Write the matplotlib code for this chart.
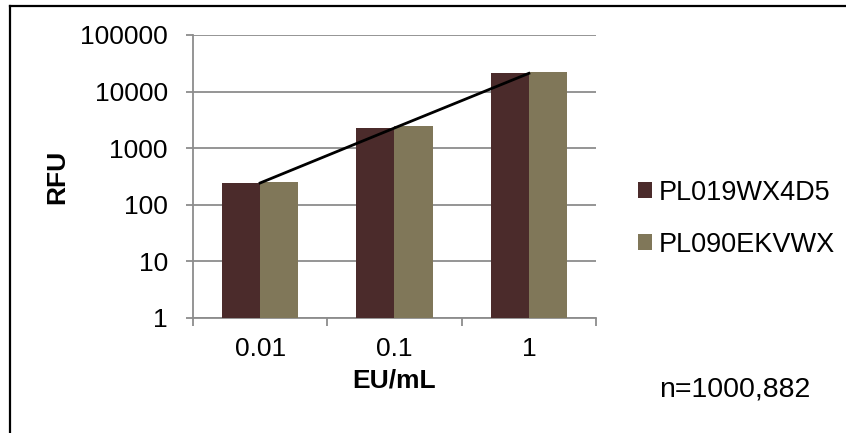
import matplotlib
matplotlib.use('Agg')
import matplotlib.pyplot as plt
import matplotlib.ticker as mticker
from matplotlib.lines import Line2D
from matplotlib.patches import Patch
import numpy as np

plt.rcParams['font.family'] = ['Liberation Sans', 'DejaVu Sans']

categories = ['0.01', '0.1', '1']
series_names = ['PL019WX4D5', 'PL090EKVWX']
pl019_rfu = [243, 2275, 21000]
pl090_rfu = [253, 2440, 21900]
y_ticks = [1, 10, 100, 1000, 10000, 100000]
note = 'n=1000,882'

dark = '#4b2b2b'
olive = '#807759'
grid_gray = '#8c8c8c'
fs = 19

fig = plt.figure(figsize=(8.46, 4.33), dpi=100)
ax = fig.add_axes([0.2281, 0.2656, 0.4764, 0.6536])

x = np.arange(1, len(categories) + 1)
w = 0.284
ax.bar(x - w / 2, pl019_rfu, width=w, color=dark, zorder=3)
ax.bar(x + w / 2, pl090_rfu, width=w, color=olive, zorder=3)
# straight line across the first series
ax.plot(x, pl019_rfu, color='black', linewidth=2.0, zorder=4)

ax.set_yscale('log')
ax.set_ylim(1, 100000)
ax.set_xlim(0.5, len(categories) + 0.5)
ax.yaxis.set_major_locator(mticker.FixedLocator(y_ticks))
ax.yaxis.set_minor_locator(mticker.NullLocator())
ax.yaxis.set_major_formatter(mticker.FuncFormatter(lambda v, p: f'{int(round(v))}'))
ax.grid(axis='y', color=grid_gray, linewidth=1.3, zorder=0)

# category boundaries as ticks, labels on the centers
ax.xaxis.set_major_locator(mticker.FixedLocator(np.arange(0.5, len(categories) + 1)))
ax.xaxis.set_major_formatter(mticker.NullFormatter())
ax.xaxis.set_minor_locator(mticker.FixedLocator(x))
ax.xaxis.set_minor_formatter(mticker.FixedFormatter(categories))
ax.tick_params(axis='x', which='major', length=6, width=1.3, color=grid_gray, direction='out')
ax.tick_params(axis='x', which='minor', length=0, pad=14, labelsize=fs)
ax.tick_params(axis='y', which='major', length=5, width=1.3, color=grid_gray, pad=13, labelsize=fs)

for s in ['top', 'right']:
    ax.spines[s].set_visible(False)
for s in ['left', 'bottom']:
    ax.spines[s].set_color(grid_gray)
    ax.spines[s].set_linewidth(1.3)

ax.set_xlabel('EU/mL', fontsize=fs, fontweight='bold', labelpad=5)
ax.set_ylabel('RFU', fontsize=fs, fontweight='bold', labelpad=8)

handles = [Patch(facecolor=dark), Patch(facecolor=olive)]
fig.legend(handles, series_names, loc='center left', bbox_to_anchor=(0.7385, 0.495),
           frameon=False, fontsize=fs + 0.5, handlelength=0.5, handleheight=0.5,
           handletextpad=0.25, labelspacing=0.95, borderpad=0)

fig.text(659 / 846, 1 - 390 / 433, note, fontsize=fs + 1.5, va='center', ha='left')

# outer chart border (top and left edges)
fig.add_artist(Line2D([9.5 / 846, 1], [1 - 5.5 / 433, 1 - 5.5 / 433], color='black', linewidth=1.6))
fig.add_artist(Line2D([9.5 / 846, 9.5 / 846], [0, 1 - 5.5 / 433], color='black', linewidth=1.6))

plt.savefig('out.png', dpi=100)
